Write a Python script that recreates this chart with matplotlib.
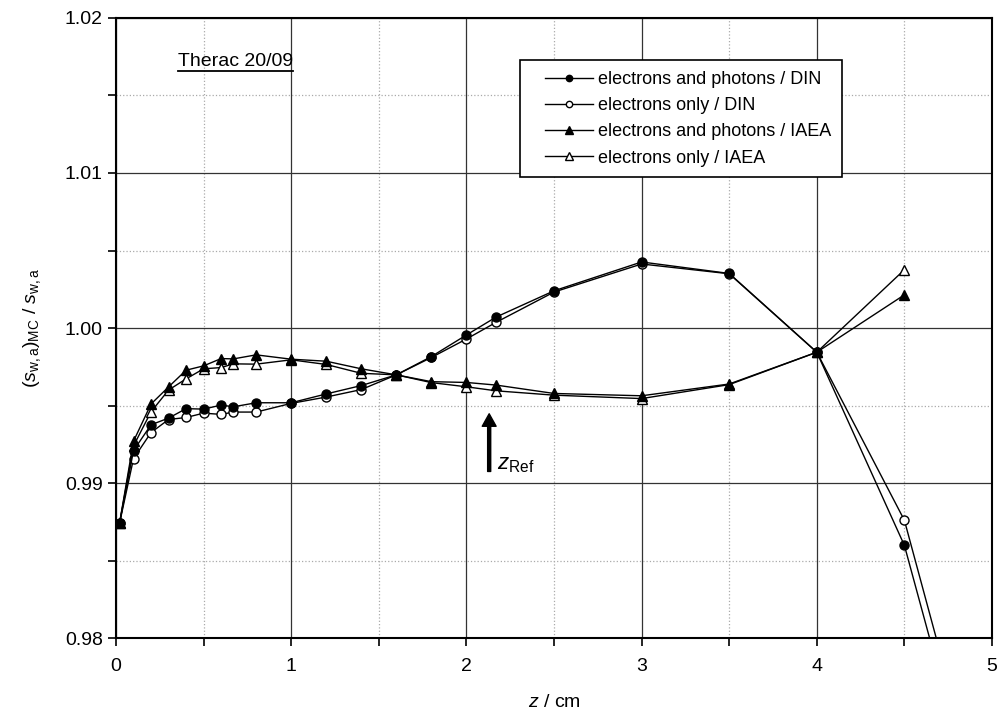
import matplotlib
matplotlib.use("Agg")
from matplotlib import pyplot as plt
from matplotlib.lines import Line2D
from matplotlib.ticker import MultipleLocator, FormatStrFormatter
from matplotlib.legend_handler import HandlerLine2D

plt.rcParams['font.family'] = ['Liberation Sans', 'DejaVu Sans']
plt.rcParams['mathtext.fontset'] = 'custom'
plt.rcParams['mathtext.rm'] = 'Liberation Sans'
plt.rcParams['mathtext.it'] = 'Liberation Sans:italic'

# depth values (cm)
z_iaea = [0.02, 0.1, 0.2, 0.3, 0.4, 0.5, 0.6, 0.67, 0.8, 1.0, 1.2, 1.4, 1.6,
          1.8, 2.0, 2.17, 2.5, 3.0, 3.5, 4.0, 4.5]
z_din = z_iaea + [5.0]

ep_din = [0.9874, 0.9921, 0.99376, 0.99419, 0.9948, 0.99477, 0.99503, 0.99492,
          0.99518, 0.99518, 0.99575, 0.99629, 0.99698, 0.99816, 0.99955, 1.00071,
          1.0024, 1.00426, 1.00352, 0.99844, 0.98598, 0.9652]
e_din = [0.9874, 0.99158, 0.99326, 0.9941, 0.99423, 0.99451, 0.99443, 0.99458,
         0.99458, 0.99514, 0.99555, 0.99603, 0.99698, 0.9981, 0.99929, 1.00037,
         1.00232, 1.00413, 1.0035, 0.99844, 0.9876, 0.9667]
ep_iaea = [0.9874, 0.9927, 0.9951, 0.9962, 0.99728, 0.99756, 0.99803, 0.99801,
           0.99827, 0.99799, 0.99786, 0.99737, 0.99698, 0.99654, 0.99649, 0.99632,
           0.99578, 0.99563, 0.99639, 0.99844, 1.00214]
e_iaea = [0.9874, 0.9924, 0.9946, 0.9960, 0.99672, 0.99737, 0.99745, 0.99769,
          0.99767, 0.99795, 0.99765, 0.99708, 0.99698, 0.99648, 0.99621, 0.99595,
          0.99567, 0.99545, 0.99635, 0.99844, 1.00376]

labels = ["electrons and photons / DIN", "electrons only / DIN",
          "electrons and photons / IAEA", "electrons only / IAEA"]

z_ref = 2.13


class ShiftedLine(HandlerLine2D):
    # legend line starts a bit further in from the frame
    def create_artists(self, legend, orig_handle, xdescent, ydescent, width,
                       height, fontsize, trans):
        shift = 0.78 * fontsize
        return super().create_artists(legend, orig_handle, xdescent - shift,
                                      ydescent, width - shift, height,
                                      fontsize, trans)


fig = plt.figure(figsize=(10, 7.17), dpi=100)
ax = fig.add_axes([0.116, 0.110, 0.876, 0.865])

ax.plot(z_din, ep_din, color='black', lw=1, marker='o', ms=6.5, mfc='black',
        mec='black', label=labels[0], zorder=5)
ax.plot(z_din, e_din, color='black', lw=1, marker='o', ms=6.5, mfc='white',
        mec='black', label=labels[1], zorder=4)
ax.plot(z_iaea, ep_iaea, color='black', lw=1, marker='^', ms=7.5, mfc='black',
        mec='black', label=labels[2], zorder=5)
ax.plot(z_iaea, e_iaea, color='black', lw=1, marker='^', ms=7.5, mfc='white',
        mec='black', label=labels[3], zorder=4)

ax.set_xlim(0, 5)
ax.set_ylim(0.98, 1.02)
ax.xaxis.set_major_locator(MultipleLocator(1))
ax.xaxis.set_minor_locator(MultipleLocator(0.5))
ax.yaxis.set_major_locator(MultipleLocator(0.01))
ax.yaxis.set_minor_locator(MultipleLocator(0.005))
ax.yaxis.set_major_formatter(FormatStrFormatter('%.2f'))

ax.grid(which='major', color='#333333', lw=0.9, ls='-')
ax.grid(which='minor', color='#aaaaaa', lw=0.9, ls=':')
ax.set_axisbelow(True)
for s in ax.spines.values():
    s.set_linewidth(1.5)
ax.tick_params(which='both', direction='out', length=6, width=1.2,
               labelsize=14, color='black')
ax.tick_params(axis='x', pad=8)

ax.set_xlabel(r'$\mathit{z}$ / cm', fontsize=14, labelpad=14)
ax.set_ylabel(r'($\mathit{s}_{\mathrm{w,a}}$)$_{\mathrm{MC}}$ / $\mathit{s}_{\mathrm{w,a}}$',
              fontsize=14, labelpad=16)

leg = ax.legend(loc='upper left', bbox_to_anchor=(0.461, 0.932), fontsize=13,
                frameon=True, fancybox=False, edgecolor='black', framealpha=1,
                handlelength=3.43, markerscale=0.7, borderpad=0.6,
                borderaxespad=0, labelspacing=0.51, handletextpad=0.28,
                handler_map={Line2D: ShiftedLine()})
leg.get_frame().set_linewidth(1.2)

t = ax.text(0.0708, 0.9226, 'Therac 20/09', transform=ax.transAxes,
            fontsize=14, va='baseline', ha='left')
fig.canvas.draw()
bb = t.get_window_extent().transformed(ax.transAxes.inverted())
ax.add_line(Line2D([bb.x0, bb.x1], [bb.y0 - 0.002, bb.y0 - 0.002],
                   transform=ax.transAxes, color='black', lw=1.3))

ax.annotate('', xy=(z_ref, 0.99447), xytext=(z_ref, 0.99075),
            arrowprops=dict(facecolor='black', edgecolor='black', width=2.2,
                            headwidth=10, headlength=9, shrink=0))
ax.text(z_ref + 0.045, 0.99086, r'$\mathit{z}_{\mathrm{Ref}}$', fontsize=16,
        va='baseline', ha='left')

fig.savefig('out.png', dpi=100)
